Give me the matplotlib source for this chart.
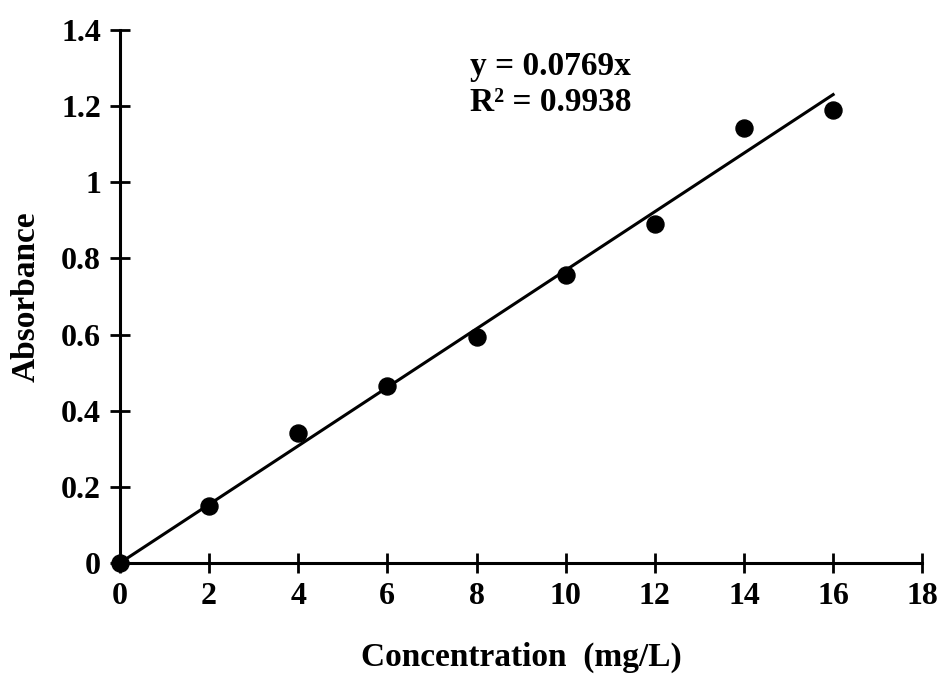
import matplotlib.pyplot as plt
import numpy as np

conc = [0, 2, 4, 6, 8, 10, 12, 14, 16]
absorbance = [0.0, 0.150, 0.341, 0.465, 0.594, 0.756, 0.890, 1.143, 1.190]
slope = 0.0769
r2 = 0.9938

plt.rcParams['font.family'] = ['Liberation Serif', 'DejaVu Serif']
plt.rcParams['font.weight'] = 'bold'

fig = plt.figure(figsize=(9.44, 6.82), dpi=100)
ax = fig.add_axes([0.127, 0.1745, 0.85, 0.7815])

# trendline through the origin
fit_x = np.array([0, max(conc)])
ax.plot(fit_x, slope * fit_x, color='black', lw=2.2, zorder=2)
ax.scatter(conc, absorbance, s=150, color='black', zorder=3, clip_on=False)

ax.set_xlim(0, 18)
ax.set_ylim(0, 1.4)
ax.set_xticks(range(0, 19, 2))
ax.set_yticks(np.arange(0, 1.41, 0.2))
ax.set_yticklabels(['0', '0.2', '0.4', '0.6', '0.8', '1', '1.2', '1.4'])

for side in ['top', 'right']:
    ax.spines[side].set_visible(False)
for side in ['left', 'bottom']:
    ax.spines[side].set_linewidth(2.2)

ax.tick_params(direction='inout', length=15, width=2, labelsize=23, pad=6)
for lab in ax.get_xticklabels() + ax.get_yticklabels():
    lab.set_fontweight('bold')

ax.set_xlabel('Concentration  (mg/L)', fontsize=24, fontweight='bold', labelpad=22)
ax.set_ylabel('Absorbance', fontsize=24, fontweight='bold', labelpad=14)

ax.text(7.85, 1.345, f'y = {slope}x\nR² = {r2}', fontsize=24, fontweight='bold',
        va='top', ha='left', linespacing=1.2)

fig.savefig('out.png', dpi=100)
